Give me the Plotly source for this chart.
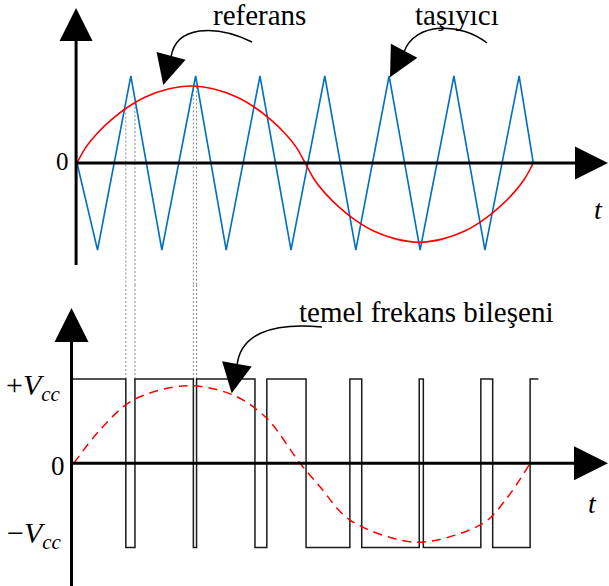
import plotly.graph_objects as go
import numpy as np

# ---- signals (time in fundamental periods) ----
# triangular carrier vertices
carrier_t = [0.0, 0.045, 0.118, 0.186, 0.260, 0.327, 0.401, 0.469, 0.543,
             0.611, 0.684, 0.752, 0.826, 0.894, 0.969, 1.0]
carrier_v = [0, -1, 1, -1, 1, -1, 1, -1, 1, -1, 1, -1, 1, -1, 1, 0]

# reference (modulating) wave
ref_t = [0.0, 0.020, 0.045, 0.075, 0.110, 0.150, 0.200, 0.250, 0.300, 0.350,
         0.390, 0.425, 0.455, 0.480, 0.500,
         0.520, 0.545, 0.575, 0.610, 0.650, 0.700, 0.750, 0.800, 0.850,
         0.890, 0.925, 0.955, 0.980, 1.0]
ref_v = [0.0, 0.185, 0.345, 0.496, 0.638, 0.759, 0.850, 0.885, 0.850, 0.759,
         0.638, 0.496, 0.345, 0.185, 0.0,
         -0.190, -0.355, -0.511, -0.657, -0.782, -0.875, -0.911, -0.875, -0.782,
         -0.657, -0.511, -0.355, -0.190, 0.0]

# fundamental component of the output (in Vcc units)
fund_t = [-0.007, 0.050, 0.123, 0.240, 0.3425, 0.416, 0.489, 0.5325, 0.598,
          0.744, 0.890, 0.942, 0.993]
fund_v = [0.0, 0.395, 0.751, 0.920, 0.810, 0.534, 0.0, -0.278, -0.673,
          -0.937, -0.712, -0.415, 0.0]

# bipolar PWM output: switching instants and the level held after each
pwm_edges_t = [-0.012, 0.107, 0.127, 0.255, 0.262, 0.390, 0.416, 0.502, 0.598,
               0.624, 0.750, 0.759, 0.885, 0.911, 0.993, 1.011]
pwm_levels = [1, -1, 1, -1, 1, -1, 1, -1, 1, -1, 1, -1, 1, -1, 1]

# ---- page geometry ----
W, H = 609, 586
X_ORIGIN, X_SCALE = 77.0, 456.3       # px of t=0, px per period
SPLIT = 285.0                          # px row separating the panels
TOP_ZERO, TOP_SCALE = 163.0, 87.0
BOT_ZERO, BOT_SCALE = 463.3, 84.3

x_range = [-X_ORIGIN / X_SCALE, (W - X_ORIGIN) / X_SCALE]
top_range = [(TOP_ZERO - SPLIT) / TOP_SCALE, TOP_ZERO / TOP_SCALE]
bot_range = [(BOT_ZERO - H) / BOT_SCALE, (BOT_ZERO - SPLIT) / BOT_SCALE]
split_frac = 1 - SPLIT / H

BLACK = "#000000"
BLUE = "#0070C0"
RED = "#FF0000"
GREY = "#8c8c8c"
SERIF = "Liberation Serif, Times New Roman, serif"

fig = go.Figure()


def line(x, y, axes, color, width, dash=None, shape="linear", smoothing=None):
    xa, ya = axes
    ln = dict(color=color, width=width, shape=shape)
    if dash:
        ln["dash"] = dash
    if smoothing is not None:
        ln["smoothing"] = smoothing
    fig.add_trace(go.Scatter(x=x, y=y, mode="lines", line=ln, xaxis=xa,
                             yaxis=ya, hoverinfo="skip", showlegend=False))


def arrowhead(x, y, axes, angle, size):
    xa, ya = axes
    fig.add_trace(go.Scatter(x=[x], y=[y], mode="markers", xaxis=xa, yaxis=ya,
                             marker=dict(symbol="arrow-up", size=size,
                                         angle=angle, color=BLACK,
                                         line=dict(width=0)),
                             cliponaxis=False, hoverinfo="skip",
                             showlegend=False))


TOP = ("x", "y")
BOT = ("x2", "y2")

# ---- top panel: carrier and reference ----
top_axis_t = -0.002
tip_top_v = (TOP_ZERO - 8) / TOP_SCALE
tip_right_t = (W - 1 - X_ORIGIN) / X_SCALE

# switching instants projected down to the output
for t in pwm_edges_t[1:5]:
    v0 = float(np.interp(t, ref_t, ref_v))
    line([t, t], [v0, top_range[0] - 1], TOP, GREY, 1, dash="2px,2px")
    line([t, t], [1, bot_range[1] + 1], BOT, GREY, 1, dash="2px,2px")

line(carrier_t, carrier_v, TOP, BLUE, 1.6)
line(ref_t, ref_v, TOP, RED, 1.6, shape="spline", smoothing=1.0)

line([top_axis_t, top_axis_t], [(TOP_ZERO - 265) / TOP_SCALE, tip_top_v - 0.25],
     TOP, BLACK, 3)
line([top_axis_t, tip_right_t - 0.045], [0, 0], TOP, BLACK, 3)
arrowhead(top_axis_t, tip_top_v, TOP, 0, 33)
arrowhead(tip_right_t, 0, TOP, 90, 33)

# ---- bottom panel: PWM output and its fundamental ----
bot_axis_t = pwm_edges_t[0]
tip_bot_v = (BOT_ZERO - 308) / BOT_SCALE

line(pwm_edges_t, pwm_levels + [pwm_levels[-1]], BOT, "#1a1a1a", 1.5, shape="hv")
line(fund_t, fund_v, BOT, RED, 1.5, dash="9px,6px", shape="spline", smoothing=0.9)

line([bot_axis_t, bot_axis_t], [bot_range[0], tip_bot_v - 0.25], BOT, BLACK, 3)
line([bot_axis_t, tip_right_t - 0.045], [0, 0], BOT, BLACK, 3)
arrowhead(bot_axis_t, tip_bot_v, BOT, 0, 34)
arrowhead(tip_right_t, 0, BOT, 90, 34)

# ---- curved pointers ----
pointers = [
    # (axes, bezier control points, arrow tip, arrow angle)
    (TOP, [(0.3835, 1.391), (0.3024, 1.598), (0.2170, 1.575), (0.2060, 1.218)],
     (0.1891, 0.897), 195),
    (TOP, [(0.8985, 1.379), (0.8394, 1.621), (0.7407, 1.621), (0.7166, 1.276)],
     (0.6860, 0.985), 208),
    (BOT, [(0.5369, 1.617), (0.4230, 1.676), (0.3572, 1.522), (0.3506, 1.154)],
     (0.3390, 0.830), 190),
]
shapes = []
for axes, pts, tip, ang in pointers:
    (x0, y0), (x1, y1), (x2, y2), (x3, y3) = pts
    path = f"M{x0},{y0} C{x1},{y1} {x2},{y2} {x3},{y3}"
    shapes.append(dict(type="path", path=path, xref=axes[0], yref=axes[1],
                       line=dict(color=BLACK, width=1.5)))
    arrowhead(tip[0], tip[1], axes, ang, 30)

# ---- labels ----
def label(text, x, y, axes, size, xanchor="center", yanchor="middle"):
    return dict(text=text, x=x, y=y, xref=axes[0], yref=axes[1],
                showarrow=False, xanchor=xanchor, yanchor=yanchor,
                font=dict(family=SERIF, size=size, color=BLACK))


annotations = [
    label("referans", 0.401, 1.70, TOP, 29),
    label("taşıyıcı", 0.832, 1.70, TOP, 29),
    label("0", -0.0307, 0.02, TOP, 25),
    label("<i>t</i>", 1.142, -0.53, TOP, 28),
    label("temel frekans bileşeni", 0.764, 1.80, BOT, 29),
    label("+<i>V</i><sub><i>cc</i></sub>", -0.030, 0.90, BOT, 30, xanchor="right"),
    label("0", -0.041, -0.03, BOT, 27),
    label("\u2212<i>V</i><sub><i>cc</i></sub>", -0.028, -0.85, BOT, 30, xanchor="right"),
    label("<i>t</i>", 1.129, -0.48, BOT, 28),
]

hidden = dict(visible=False, fixedrange=True)
fig.update_layout(
    width=W, height=H, margin=dict(l=0, r=0, t=0, b=0),
    paper_bgcolor="white", plot_bgcolor="white", showlegend=False,
    xaxis=dict(range=x_range, domain=[0, 1], anchor="y", **hidden),
    yaxis=dict(range=top_range, domain=[split_frac, 1], anchor="x", **hidden),
    xaxis2=dict(range=x_range, domain=[0, 1], anchor="y2", **hidden),
    yaxis2=dict(range=bot_range, domain=[0, split_frac], anchor="x2", **hidden),
    shapes=shapes, annotations=annotations,
)

fig.write_html("out.html")
